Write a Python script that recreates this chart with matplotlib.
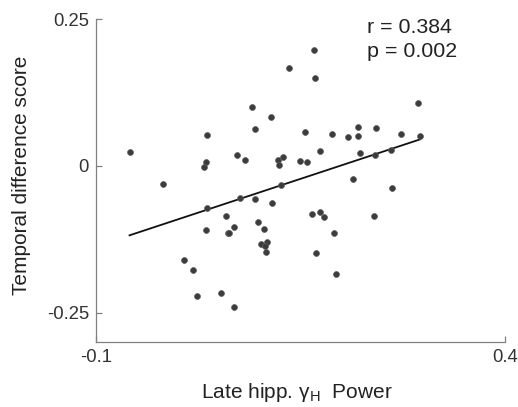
import numpy as np
import matplotlib.pyplot as plt

plt.rcParams['font.family'] = ['Liberation Sans', 'DejaVu Sans']
plt.rcParams['mathtext.fontset'] = 'custom'
plt.rcParams['mathtext.rm'] = 'Liberation Sans'

# late hippocampal gamma power vs temporal difference score
gamma_power = [
    -0.059, -0.018, 0.007, 0.019, 0.023, 0.032, 0.035, 0.036, 0.036, 0.035,
    0.053, 0.059, 0.061, 0.063, 0.069, 0.069, 0.072, 0.076, 0.082, 0.091,
    0.094, 0.094, 0.098, 0.105, 0.102, 0.109, 0.107, 0.108, 0.114, 0.115,
    0.123, 0.128, 0.124, 0.126, 0.136, 0.149, 0.158, 0.156, 0.164, 0.167,
    0.168, 0.169, 0.174, 0.174, 0.179, 0.189, 0.191, 0.193, 0.208, 0.214,
    0.220, 0.220, 0.223, 0.240, 0.241, 0.242, 0.261, 0.262, 0.273, 0.293,
    0.296,
]
diff_score = [
    0.023, -0.031, -0.160, -0.177, -0.221, -0.002, 0.006, 0.052, -0.071, -0.109,
    -0.217, -0.085, -0.115, -0.114, -0.105, -0.240, 0.018, -0.054, 0.010, 0.101,
    0.063, -0.057, -0.096, -0.107, -0.133, -0.129, -0.136, -0.147, 0.083, -0.064,
    0.010, 0.015, 0.001, -0.032, 0.166, 0.009, 0.007, 0.057, -0.082, 0.197,
    0.150, -0.148, 0.026, -0.078, -0.087, 0.054, -0.115, -0.184, 0.049, -0.022,
    0.051, 0.066, 0.021, -0.086, 0.018, 0.065, 0.027, -0.037, 0.055, 0.107,
    0.051,
]
# least-squares line as drawn in the figure
fit_slope = 0.46
fit_intercept = -0.0912
r_value = 0.384
p_value = 0.002

x = np.array(gamma_power)
y = np.array(diff_score)

fig = plt.figure(figsize=(5.18, 4.07), dpi=100)
ax = fig.add_axes([0.1853, 0.1597, 0.7897, 0.7936])

ax.scatter(x, y, s=18, c='#3c3c3c', edgecolors='#5e5e5e', linewidths=0.5, zorder=3)
xs = np.array([x.min(), x.max()])
ax.plot(xs, fit_slope * xs + fit_intercept, color='#111111', lw=1.3, zorder=2)

ax.set_xlim(-0.1, 0.4)
ax.set_ylim(-0.3, 0.25)
ax.set_xticks([-0.1, 0.4])
ax.set_xticklabels(['-0.1', '0.4'])
ax.set_yticks([-0.25, 0, 0.25])
ax.set_yticklabels(['-0.25', '0', '0.25'])

for s in ['top', 'right']:
    ax.spines[s].set_visible(False)
for s in ['left', 'bottom']:
    ax.spines[s].set_color('#808080')
    ax.spines[s].set_linewidth(0.9)
ax.tick_params(direction='in', length=4, width=0.9, color='#808080',
               labelcolor='#333333', labelsize=13.3, pad=5)

ax.set_xlabel('Late hipp. \u03b3$_\\mathrm{H}$  Power', fontsize=15,
              color='#222222', va='baseline')
ax.xaxis.set_label_coords(0.49, -0.1734)
ax.set_ylabel('Temporal difference score', fontsize=15, color='#222222')
ax.yaxis.set_label_coords(-0.16, 0.517)

ax.text(0.6626, 0.957, f'r = {r_value:.3f}', transform=ax.transAxes,
        fontsize=15.4, color='#222222', va='baseline', ha='left')
ax.text(0.6626, 0.882, f'p = {p_value:.3f}', transform=ax.transAxes,
        fontsize=15.4, color='#222222', va='baseline', ha='left')

fig.savefig('out.png', dpi=100)
